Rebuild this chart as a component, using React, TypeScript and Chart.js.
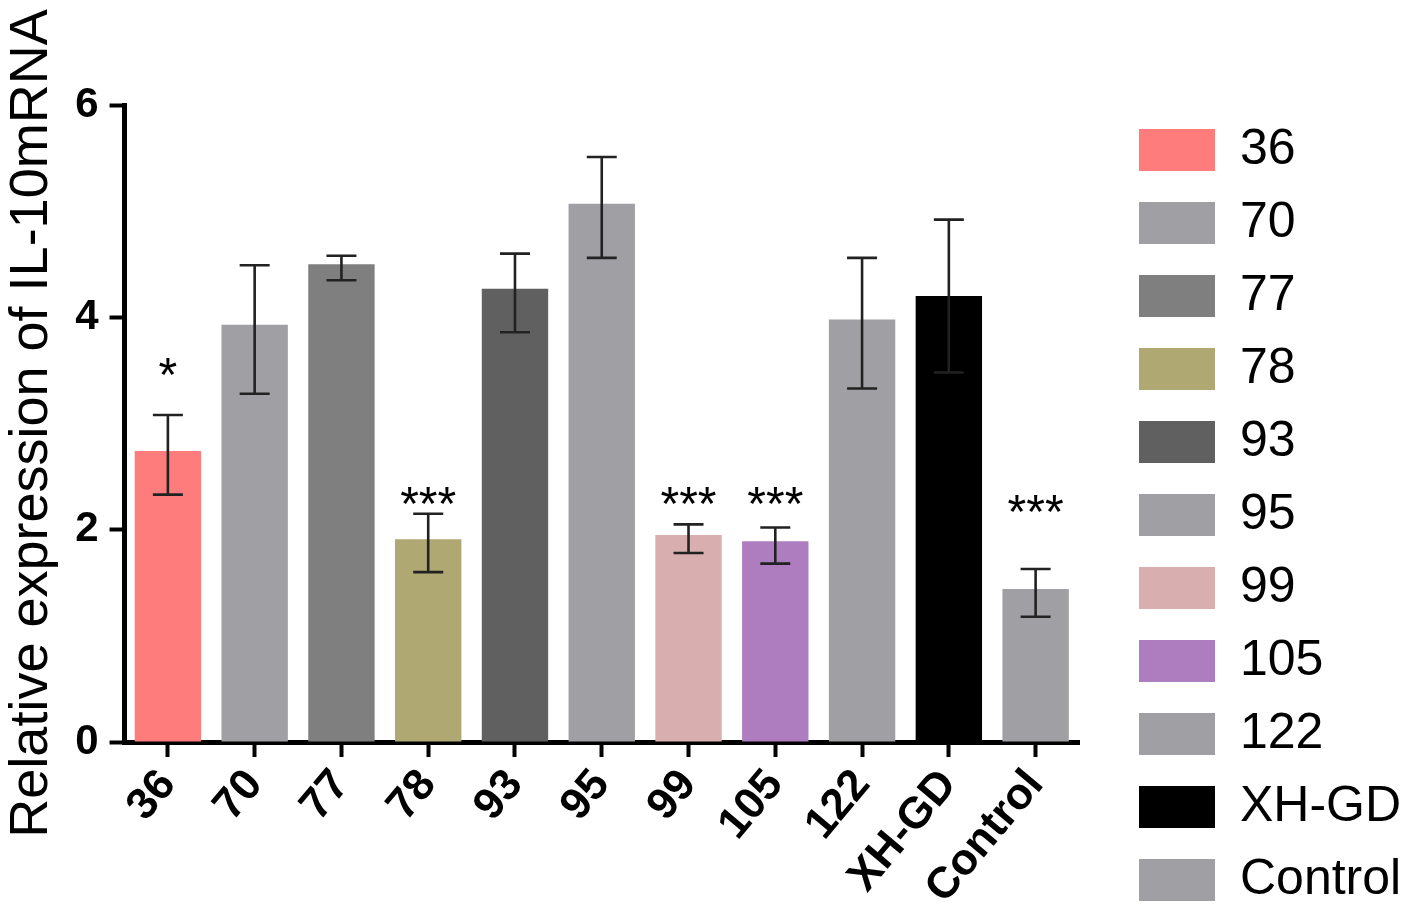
import React, { useEffect, useRef } from "react";
import { Chart, registerables } from "chart.js";

Chart.register(...registerables);

const categories = ["36", "70", "77", "78", "93", "95", "99", "105", "122", "XH-GD", "Control"];
const means = [2.74, 3.93, 4.5, 1.91, 4.27, 5.07, 1.95, 1.89, 3.98, 4.2, 1.44];
const errHigh = [3.08, 4.49, 4.58, 2.15, 4.6, 5.51, 2.05, 2.02, 4.56, 4.92, 1.63];
const errLow = [2.33, 3.28, 4.35, 1.6, 3.86, 4.56, 1.78, 1.68, 3.33, 3.48, 1.18];
const sigText = ["*", "", "", "***", "", "", "***", "***", "", "", "***"];
const sigValue = [3.51, null, null, 2.29, null, null, 2.29, 2.29, null, null, 2.22];
const barColors = [
  "#FF7C7C",
  "#A0A0A4",
  "#7F7F7F",
  "#B0A873",
  "#606060",
  "#A0A0A4",
  "#D8AEAE",
  "#AE7DBF",
  "#A0A0A4",
  "#000000",
  "#A0A0A4",
];
const yTicks = [0, 2, 4, 6];
const yTitle = "Relative expression of IL-10mRNA";

const FONT = "'Liberation Sans', Arial, Helvetica, sans-serif";

const errorBarPlugin = {
  id: "errorBars",
  afterDatasetsDraw(chart: any) {
    const meta = chart.getDatasetMeta(0);
    const yScale = chart.scales.y;
    const ctx = chart.ctx;
    ctx.save();
    ctx.strokeStyle = "#222222";
    ctx.lineWidth = 2.6;
    const cap = 15;
    meta.data.forEach((bar: any, i: number) => {
      const x = bar.x;
      const yh = yScale.getPixelForValue(errHigh[i]);
      const yl = yScale.getPixelForValue(errLow[i]);
      ctx.beginPath();
      ctx.moveTo(x, yh);
      ctx.lineTo(x, yl);
      ctx.moveTo(x - cap, yh);
      ctx.lineTo(x + cap, yh);
      ctx.moveTo(x - cap, yl);
      ctx.lineTo(x + cap, yl);
      ctx.stroke();
    });
    const fs = 48;
    ctx.fillStyle = "#000000";
    ctx.font = `${fs}px ${FONT}`;
    ctx.textAlign = "center";
    ctx.textBaseline = "alphabetic";
    meta.data.forEach((bar: any, i: number) => {
      const v = sigValue[i];
      if (!sigText[i] || v === null) return;
      const y = yScale.getPixelForValue(v) + fs * 0.45;
      ctx.fillText(sigText[i], bar.x, y);
    });
    ctx.restore();
  },
};

export default function App() {
  const canvasRef = useRef<HTMLCanvasElement | null>(null);

  useEffect(() => {
    if (!canvasRef.current) return;
    Chart.defaults.font.family = FONT;
    const chart = new Chart(canvasRef.current, {
      type: "bar",
      data: {
        labels: categories,
        datasets: [
          {
            data: means,
            backgroundColor: barColors,
            borderWidth: 0,
            categoryPercentage: 1,
            barPercentage: 0.765,
            yAxisID: "y",
          },
        ],
      },
      options: {
        animation: false,
        responsive: true,
        maintainAspectRatio: false,
        layout: { padding: { top: 0, left: 0, right: 0, bottom: -19 } },
        plugins: {
          tooltip: { enabled: false },
          title: {
            display: true,
            text: "",
            fullSize: false,
            padding: { top: 87, bottom: 0 },
            font: { size: 10, lineHeight: 1 },
          },
          legend: {
            display: true,
            position: "right",
            align: "end",
            maxWidth: 292,
            labels: {
              boxWidth: 76,
              boxHeight: 42,
              padding: 23,
              color: "#000000",
              font: { size: 50, family: FONT },
              generateLabels: () =>
                categories.map((c, i) => ({
                  text: c,
                  fillStyle: barColors[i],
                  strokeStyle: barColors[i],
                  lineWidth: 0,
                  hidden: false,
                  index: i,
                  fontColor: "#000000",
                })),
            },
          },
        },
        scales: {
          x: {
            offset: true,
            grid: {
              display: true,
              offset: false,
              drawOnChartArea: false,
              drawTicks: true,
              tickLength: 15,
              tickWidth: 4,
              tickColor: "#000000",
            },
            border: { display: true, color: "#000000", width: 5 },
            ticks: {
              autoSkip: false,
              minRotation: 50,
              maxRotation: 50,
              padding: 3,
              color: "#000000",
              font: { size: 44, weight: "bold", family: FONT },
            },
            afterFit: (s: any) => {
              s.height = 186;
            },
          },
          y: {
            position: "left",
            min: 0,
            max: 6,
            afterBuildTicks: (s: any) => {
              s.ticks = yTicks.map((v) => ({ value: v }));
            },
            grid: {
              display: true,
              drawOnChartArea: false,
              drawTicks: true,
              tickLength: 15,
              tickWidth: 4,
              tickColor: "#000000",
            },
            border: { display: true, color: "#000000", width: 5 },
            ticks: {
              padding: 11,
              color: "#000000",
              font: { size: 42, weight: "bold", family: FONT },
            },
            title: {
              display: true,
              text: yTitle,
              color: "#000000",
              padding: 0,
              font: { size: 54, weight: "normal", family: FONT, lineHeight: 0.88 },
            },
            afterFit: (s: any) => {
              s.width = 116.5;
            },
          },
          y2: {
            position: "right",
            display: true,
            grid: { display: false },
            border: { display: false },
            ticks: { display: false },
            afterFit: (s: any) => {
              s.width = 37;
            },
          },
        },
      },
      plugins: [errorBarPlugin],
    });
    return () => chart.destroy();
  }, []);

  return (
    <div style={{ position: "relative", width: 1400, height: 901 }}>
      <canvas ref={canvasRef} />
    </div>
  );
}
